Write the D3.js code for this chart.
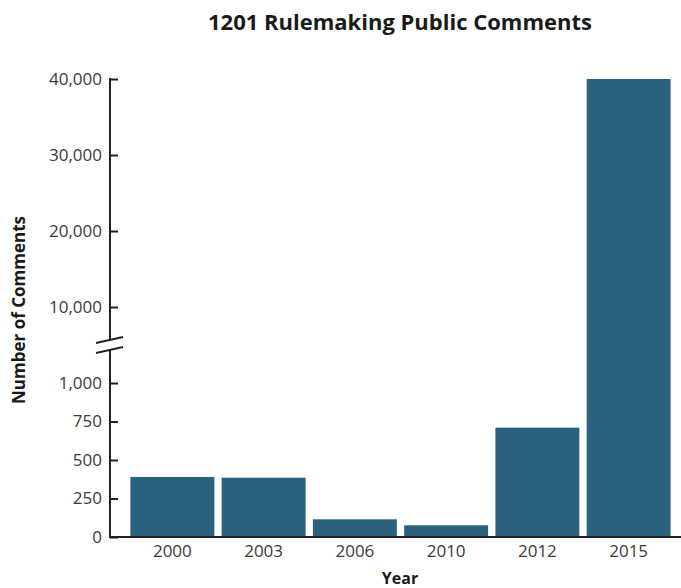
<!DOCTYPE html>
<html><head><meta charset="utf-8">
<script src="https://cdn.jsdelivr.net/npm/d3@7"></script>
<style>body{margin:0;background:#fff;} svg{display:block;}</style>
</head><body>
<svg id="chart" width="681" height="588"></svg>
<script>
const years = ["2000","2003","2006","2010","2012","2015"];
const comments = [390, 385, 115, 76, 710, 40000];
const lowTicks = [0, 250, 500, 750, 1000];
const highTicks = [10000, 20000, 30000, 40000];
const title = "1201 Rulemaking Public Comments";
const xLabel = "Year";
const yLabel = "Number of Comments";

const svg = d3.select("#chart");
const font = "'Open Sans', 'Noto Sans', sans-serif";
const axisX = 110;
const baseY = 537;
const barColor = "#2a627f";
const textColor = "#3a3a3a";

const yLow = d3.scaleLinear().domain([0, 1000]).range([baseY, 383]);
const yHigh = d3.scaleLinear().domain([10000, 40000]).range([307, 79]);
const yVal = v => v <= 1000 ? yLow(v) : yHigh(v);

const x = d3.scaleBand().domain(years).range([124, 677]).paddingInner(0.08).paddingOuter(0.07);

// bars
svg.append("g").selectAll("rect").data(years.map((y, i) => ({y, v: comments[i]})))
  .join("rect")
  .attr("x", d => x(d.y))
  .attr("width", x.bandwidth())
  .attr("y", d => yVal(d.v))
  .attr("height", d => baseY - yVal(d.v))
  .attr("fill", barColor);

function styleAxis(g) {
  g.select(".domain").remove();
  g.selectAll(".tick line").attr("stroke", "#222").attr("stroke-width", 2);
  g.selectAll(".tick text").attr("fill", textColor).style("font-family", font).style("font-size", "17px");
}

const fmt = d3.format(",");
svg.append("g").attr("transform", `translate(${axisX},0)`)
  .call(d3.axisLeft(yHigh).tickValues(highTicks).tickFormat(fmt).tickSizeInner(-8).tickSizeOuter(0).tickPadding(8))
  .call(styleAxis);
svg.append("g").attr("transform", `translate(${axisX},0)`)
  .call(d3.axisLeft(yLow).tickValues(lowTicks).tickFormat(fmt).tickSizeInner(-8).tickSizeOuter(0).tickPadding(8))
  .call(styleAxis);

// y axis line with break
svg.append("line").attr("x1", axisX).attr("x2", axisX).attr("y1", 78).attr("y2", 341)
  .attr("stroke", "#222").attr("stroke-width", 2);
svg.append("line").attr("x1", axisX).attr("x2", axisX).attr("y1", 349).attr("y2", baseY + 1)
  .attr("stroke", "#222").attr("stroke-width", 2);
[[343, 337], [353, 347]].forEach(([a, b]) => {
  svg.append("line").attr("x1", 96).attr("y1", a).attr("x2", 123).attr("y2", b)
    .attr("stroke", "#222").attr("stroke-width", 1.8);
});

// x axis
svg.append("g").attr("transform", `translate(0,${baseY})`)
  .call(d3.axisBottom(x).tickSize(0).tickPadding(8))
  .call(g => {
    g.select(".domain").remove();
    g.selectAll(".tick text").attr("fill", textColor).style("font-family", font).style("font-size", "17px");
  });
svg.append("line").attr("x1", axisX - 1).attr("x2", 681).attr("y1", baseY).attr("y2", baseY)
  .attr("stroke", "#222").attr("stroke-width", 2);

// titles
svg.append("text").attr("x", 400).attr("y", 30).attr("text-anchor", "middle")
  .style("font-family", font).style("font-size", "22px").style("font-weight", "bold").attr("fill", "#1a1a1a")
  .text(title);
svg.append("text").attr("x", 400).attr("y", 584).attr("text-anchor", "middle")
  .style("font-family", font).style("font-size", "16px").style("font-weight", "bold").attr("fill", "#1a1a1a")
  .text(xLabel);
svg.append("text").attr("transform", "translate(25,310) rotate(-90)").attr("text-anchor", "middle")
  .style("font-family", font).style("font-size", "17px").style("font-weight", "bold").attr("fill", "#1a1a1a")
  .text(yLabel);
</script>
</body></html>
